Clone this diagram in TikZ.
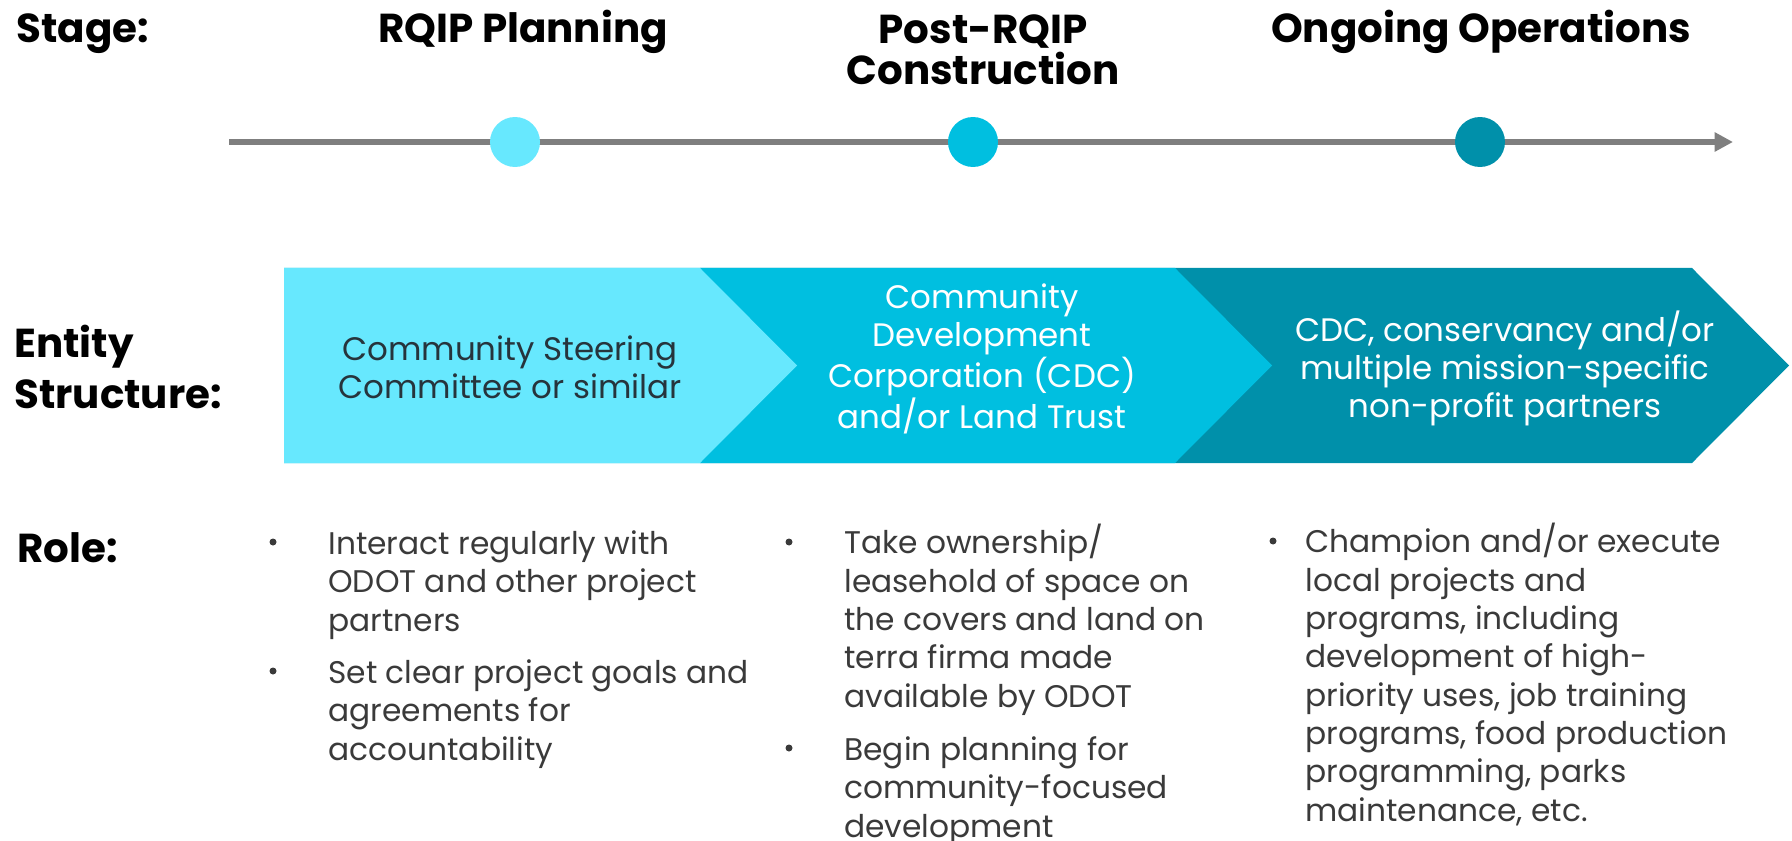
\documentclass[tikz,border=0pt]{standalone}
\usepackage{fontspec}
\setmainfont{Poppins}
\usetikzlibrary{positioning,arrows.meta}
\definecolor{planCyan}{HTML}{67E8FE}
\definecolor{buildCyan}{HTML}{00BFE0}
\definecolor{opsTeal}{HTML}{0090AA}
\definecolor{axisGray}{HTML}{7F7F7F}
\definecolor{bodyGray}{HTML}{3A3A3A}
\definecolor{slate}{HTML}{26343C}

\begin{document}
\begin{tikzpicture}[x=0.02cm,y=-0.02cm,
head/.style={inner sep=0pt,anchor=base,align=center,text=black,
    font=\fontsize{23}{23.9}\selectfont\bfseries},
rowhead/.style={head,anchor=base west,align=left,
    font=\fontsize{23}{29}\selectfont\bfseries},
dot/.style={circle,inner sep=0pt,minimum size=1cm},
chevtext/.style={inner sep=0pt,anchor=base,align=center,
    font=\fontsize{18.5}{21.6}\selectfont},
item/.style={inner sep=0pt,anchor=base west,align=left,text=bodyGray,
    font=\fontsize{17.8}{21.8}\selectfont},
bullet/.style={circle,fill=bodyGray,inner sep=0pt,minimum size=0.14cm}]
\useasboundingbox (0,0) rectangle (1792,841);

% multi-line nodes sit on the baseline of their last line
\node (stage) [rowhead] at (16,43) {Stage:};
\node (plan) [head] at (523,43) {RQIP Planning};
\node (post) [head] at (983,85) {Post-RQIP\\Construction};
\node (ops) [head] at (1481,43) {Ongoing Operations};

\coordinate (axis start) at (229,142);
\coordinate (axis end) at (1733,142);
\draw [axisGray,line width=3.4pt,-{Triangle[length=10.5pt,width=10.5pt]}]
    (axis start) -- (axis end);
\foreach \name/\x/\col in {plan dot/515/planCyan,post dot/973/buildCyan,ops dot/1480/opsTeal}
    \node (\name) [dot,fill=\col] at (\x,142) {};

\node (entity) [rowhead] at (14,408) {Entity\\Structure:};
\foreach \l/\r/\col in {700/1692/opsTeal,284/1175/buildCyan,284/700/planCyan}
    \fill [\col] (\l,268) -- (\r,268) -- ++(97,97.5) -- (\r,463) -- (\l,463) -- cycle;
\node (steering) [chevtext,text=slate] at (510,398) {Community Steering\\Committee or similar};
\node (cdc) [chevtext,text=white] at (982,428) {Community\\Development\\Corporation (CDC)\\and/or Land Trust};
\node (partners) [chevtext,text=white] at (1505,417) {CDC, conservancy and/or\\multiple mission-specific\\non-profit partners};

\node (role) [rowhead] at (17,562) {Role:};
\node (interact) [item] at (328,631) {Interact regularly with\\ODOT and other project\\partners};
\node (goals) [item] at (328,760) {Set clear project goals and\\agreements for\\accountability};
\node (ownership) [item] at (844,707) {Take ownership/\\leasehold of space on\\the covers and land on\\terra firma made\\available by ODOT};
\node (begin) [item] at (844,837) {Begin planning for\\community-focused\\development};
\node (champion) [item] at (1305,821) {Champion and/or execute\\local projects and\\programs, including\\development of high-\\priority uses, job training\\programs, food production\\programming, parks\\maintenance, etc.};
\foreach \name/\x/\y in {interact/273/542,goals/273/671,ownership/789/542,begin/789/748,champion/1273/541}
    \node (\name bullet) [bullet] at (\x,\y) {};
\end{tikzpicture}
\end{document}
